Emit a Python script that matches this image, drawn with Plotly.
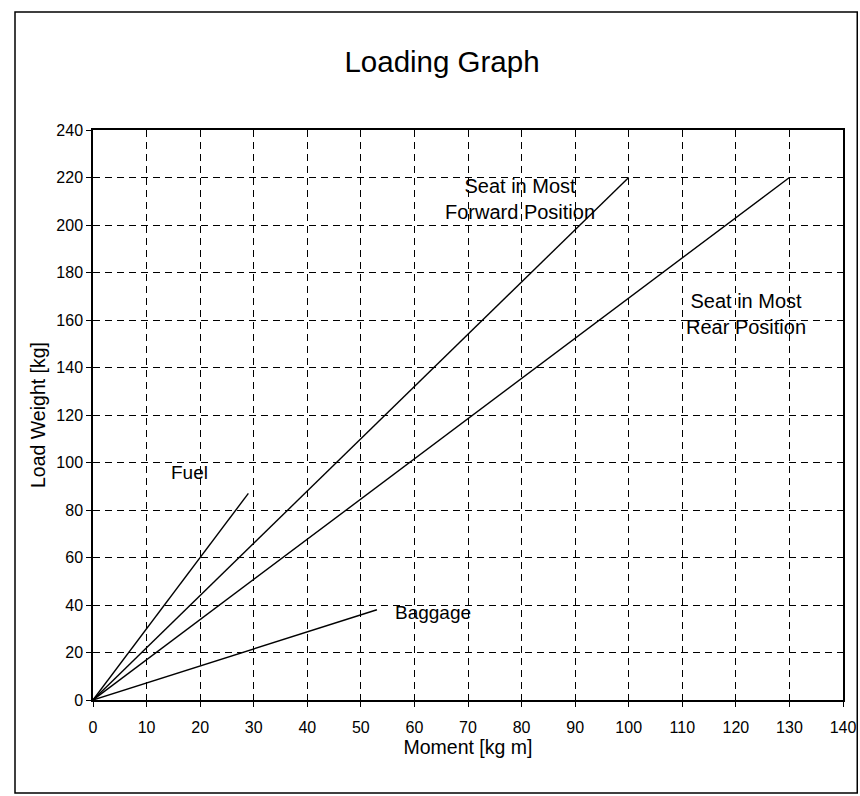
import plotly.graph_objects as go

# Data (moment [kg m], load weight [kg])
fwd_moment = [0, 100]
fwd_weight = [0, 220]
rear_moment = [0, 130]
rear_weight = [0, 220]
fuel_moment = [0, 29]
fuel_weight = [0, 87]
bag_moment = [0, 53]
bag_weight = [0, 38]

x_ticks = list(range(0, 141, 10))
y_ticks = list(range(0, 241, 20))

FONT = "Liberation Sans, Arial, sans-serif"
line_style = dict(color="black", width=1.4)

fig = go.Figure()
for xs, ys, name in [
    (fwd_moment, fwd_weight, "Seat in Most Forward Position"),
    (rear_moment, rear_weight, "Seat in Most Rear Position"),
    (fuel_moment, fuel_weight, "Fuel"),
    (bag_moment, bag_weight, "Baggage"),
]:
    fig.add_trace(go.Scatter(x=xs, y=ys, mode="lines", line=line_style,
                             name=name, showlegend=False))

annots = [
    (79.7, 211, "Seat in Most<br>Forward Position", 20),
    (121.9, 162.5, "Seat in Most<br>Rear Position", 20),
    (18.1, 96, "Fuel", 19),
    (63.5, 37, "Baggage", 19),
]
for x, y, t, s in annots:
    fig.add_annotation(x=x, y=y, text=t, showarrow=False,
                       font=dict(family=FONT, size=s, color="black"),
                       align="center")

axis_common = dict(
    showgrid=True, gridcolor="black", gridwidth=1, griddash="7px,5px",
    showline=True, linecolor="black", linewidth=1.5, mirror=True,
    ticks="outside", ticklen=5, tickcolor="black",
    tickfont=dict(family=FONT, size=16, color="black"),
    zeroline=False, automargin=False,
)

fig.update_xaxes(range=[0, 140], tickvals=x_ticks, ticklabelstandoff=7,
                 title=dict(text="Moment [kg m]", font=dict(family=FONT, size=19.5, color="black"), standoff=0),
                 **axis_common)
fig.update_yaxes(range=[0, 240], tickvals=y_ticks,
                 title=dict(text="Load Weight [kg]", font=dict(family=FONT, size=19.5, color="black"), standoff=6),
                 **axis_common)

fig.add_shape(type="rect", xref="paper", yref="paper",
              x0=-0.104, x1=1.019, y0=-0.163, y1=1.207,
              line=dict(color="black", width=1.5), layer="below")

fig.update_layout(
    width=860, height=796,
    margin=dict(l=93, r=17, t=130, b=96),
    paper_bgcolor="white", plot_bgcolor="white",
    title=dict(text="Loading Graph", x=442/860, xanchor="center",
               y=1 - 62/796, yanchor="middle",
               font=dict(family=FONT, size=29.5, color="black")),
    font=dict(family=FONT, color="black"),
)

fig.write_html("out.html", config={"displayModeBar": False},
               post_script="document.body.style.margin='0px';document.body.style.overflow='hidden';")
